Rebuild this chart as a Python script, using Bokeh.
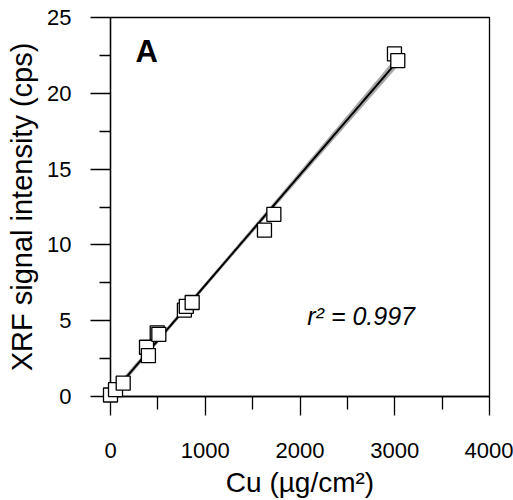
import numpy as np
from bokeh.plotting import figure
from bokeh.models import FixedTicker, Label, ColumnDataSource
from bokeh.embed import file_html
from bokeh.resources import INLINE

# ---- data ----
cu = [0, 53, 134, 380, 400, 493, 510, 780, 800, 862, 1625, 1724, 2997, 3032]
xrf = [0.1, 0.45, 0.88, 3.25, 2.7, 4.2, 4.1, 5.7, 5.95, 6.2, 10.97, 12.02, 22.6, 22.15]
x_ticks = [0, 1000, 2000, 3000, 4000]
x_minor = [500, 1500, 2500, 3500]
y_ticks = [0, 5, 10, 15, 20, 25]
y_minor = [2.5, 7.5, 12.5, 17.5, 22.5]
r2_text = "r\u00b2 = 0.997"
panel_text = "A"

FONT = "Liberation Sans"

# ---- least-squares fit with confidence band ----
xa = np.array(cu, dtype=float)
ya = np.array(xrf, dtype=float)
n = len(xa)
slope, intercept = np.polyfit(xa, ya, 1)
resid = ya - (slope * xa + intercept)
s = np.sqrt(np.sum(resid ** 2) / (n - 2))
xm = xa.mean()
sxx = np.sum((xa - xm) ** 2)
xf = np.linspace(xa.min(), xa.max(), 100)
yf = slope * xf + intercept
se = s * np.sqrt(1.0 / n + (xf - xm) ** 2 / sxx)
tval = 1.3
band = ColumnDataSource(dict(x=xf, lo=yf - tval * se, hi=yf + tval * se))

p = figure(width=513, height=500, x_range=(0, 4000), y_range=(0, 25),
           output_backend="svg", toolbar_location=None,
           min_border_left=110, min_border_right=24, min_border_top=17, min_border_bottom=104)
p.outline_line_color = "black"
p.outline_line_width = 1.3
p.outline_line_alpha = 1.0
p.grid.visible = False
p.background_fill_color = "white"
p.border_fill_color = "white"

p.varea(x="x", y1="lo", y2="hi", source=band, fill_color="#8c8c8c", fill_alpha=0.75)
p.line(xf, yf, line_color="black", line_width=2)
pts = p.scatter(cu, xrf, marker="square", size=14, fill_color="white",
                line_color="black", line_width=1.3)
pts.level = "overlay"

xa_ = p.xaxis[0]
xa_.ticker = FixedTicker(ticks=x_ticks, minor_ticks=x_minor)
xa_.major_tick_out = 19
xa_.major_tick_in = 0
xa_.minor_tick_out = 13
xa_.minor_tick_in = 0
xa_.major_label_standoff = 27
xa_.axis_label = "Cu (\u00b5g/cm\u00b2)"
xa_.axis_label_standoff = 6

ya_ = p.yaxis[0]
ya_.ticker = FixedTicker(ticks=y_ticks, minor_ticks=y_minor)
ya_.major_tick_out = 20
ya_.major_tick_in = 0
ya_.minor_tick_out = 11
ya_.minor_tick_in = 0
ya_.major_label_standoff = 19
ya_.axis_label = "XRF signal intensity (cps)"
ya_.axis_label_standoff = 6

for ax in (xa_, ya_):
    ax.axis_line_color = "black"
    ax.axis_line_width = 1.3
    ax.major_tick_line_color = "black"
    ax.major_tick_line_width = 1.3
    ax.minor_tick_line_color = "black"
    ax.minor_tick_line_width = 1.3
    ax.major_label_text_font = FONT
    ax.major_label_text_font_size = "22px"
    ax.major_label_text_color = "black"
    ax.axis_label_text_font = FONT
    ax.axis_label_text_font_style = "normal"
    ax.axis_label_text_color = "black"
xa_.axis_label_text_font_size = "28px"
ya_.axis_label_text_font_size = "29px"

p.add_layout(Label(x=264, y=22.76, text=panel_text, text_font=FONT, text_font_size="31px",
                   text_font_style="bold", text_color="black", text_baseline="middle"))
p.add_layout(Label(x=2077, y=5.33, text=r2_text, text_font=FONT, text_font_size="25px",
                   text_font_style="italic", text_color="black", text_baseline="middle"))

open("out.html", "w").write(file_html(p, INLINE))
